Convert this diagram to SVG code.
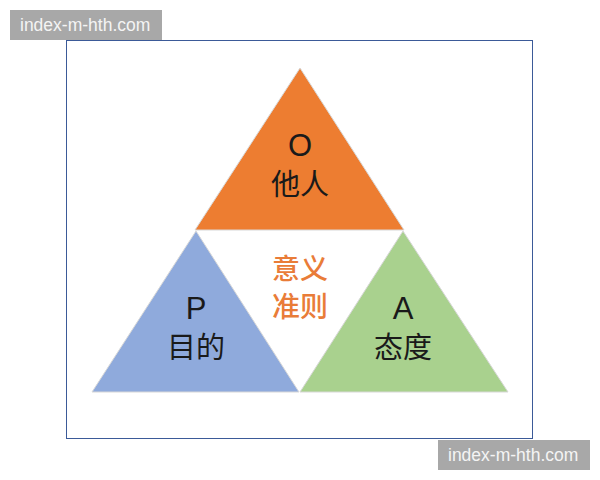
<svg xmlns="http://www.w3.org/2000/svg" width="600" height="480" viewBox="0 0 600 480">
<style>
.lbl{font-family:"Noto Sans CJK SC",sans-serif;font-size:29px;fill:#1a1a1a;text-anchor:middle}
.ltr{font-family:"Liberation Sans","DejaVu Sans",sans-serif;font-size:31px;fill:#1a1a1a;text-anchor:middle}
.ctr{font-family:"Noto Sans CJK SC",sans-serif;font-size:28px;fill:#E97C38;text-anchor:middle;font-weight:500}
.wm{font-family:"Liberation Sans","DejaVu Sans",sans-serif;font-size:17.5px;fill:#f4f4f4}
.tri{stroke:#d8d8d8;stroke-width:1}
</style>
<rect width="600" height="480" fill="#ffffff"/>
<rect x="66.5" y="40.5" width="466" height="398" fill="#ffffff" stroke="#3b5a98" stroke-width="1"/>
<g id="node-O">
<polygon class="tri" points="300,68 195,230 404,230" fill="#ED7D31"/>
<text class="ltr" x="300" y="156">O</text>
<text class="lbl" x="300" y="195">他人</text>
</g>
<g id="node-P">
<polygon class="tri" points="196,231 92,392 299,392" fill="#8FAADC"/>
<text class="ltr" x="196" y="319">P</text>
<text class="lbl" x="196" y="358">目的</text>
</g>
<g id="node-A">
<polygon class="tri" points="403,231 300,392 508,392" fill="#A9D18E"/>
<text class="ltr" x="403" y="319">A</text>
<text class="lbl" x="403" y="358">态度</text>
</g>
<g id="node-center">
<text class="ctr" x="300" y="279">意义</text>
<text class="ctr" x="300" y="317">准则</text>
</g>
<g id="connectors"></g>
<g id="watermarks">
<rect x="10" y="10" width="152" height="30" fill="#a8a8a8"/>
<text class="wm" x="20" y="31">index-m-hth.com</text>
<rect x="438" y="440" width="152" height="30" fill="#a8a8a8"/>
<text class="wm" x="448" y="461">index-m-hth.com</text>
</g>
</svg>
